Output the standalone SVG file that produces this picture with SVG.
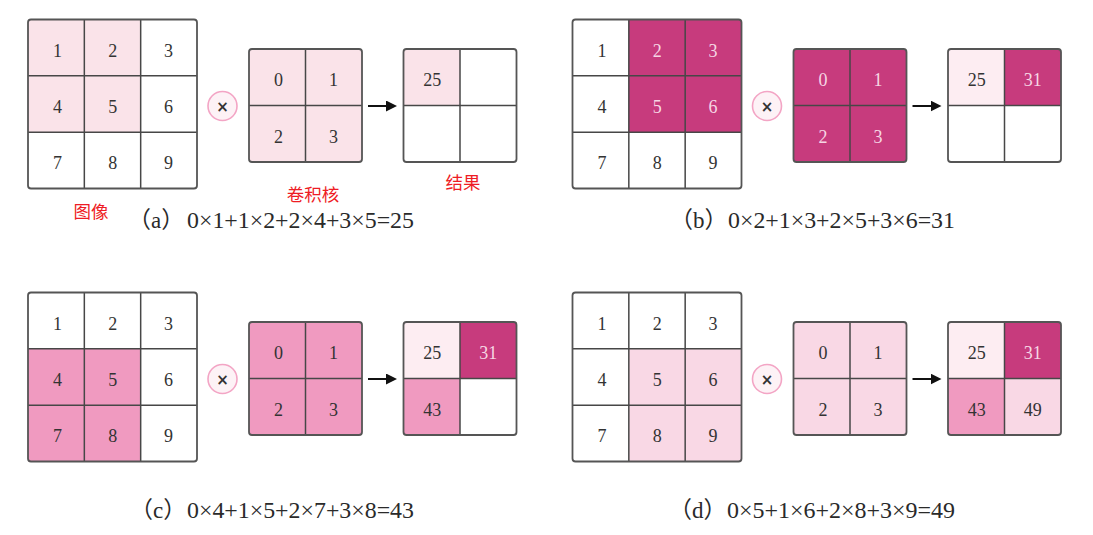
<svg xmlns="http://www.w3.org/2000/svg" width="1093" height="535" viewBox="0 0 1093 535">
<defs>
<style>
.bg{fill:#ffffff}
.ln{stroke:#474747;stroke-width:1.5;fill:none}
.outer{stroke:#555555;stroke-width:1.8;fill:none}
.num{font-family:"Liberation Serif","Times New Roman",serif;font-size:18px;fill:#333333;text-anchor:middle}
.w{fill:#f6d6e4}
.la{fill:#fae3e9}
.mg{fill:#c73b7d}
.md{fill:#f09ac0}
.ld{fill:#f9d8e5}
.vl{fill:#fdedf2}
.op{fill:#fdf2f6;stroke:#f3a5c5;stroke-width:1.6}
.opx{font-family:"DejaVu Sans",sans-serif;font-size:15px;fill:#333333;text-anchor:middle;font-weight:bold}
.arr{stroke:#111111;stroke-width:2;fill:none}
.cap{font-family:"Liberation Serif","Noto Sans CJK SC",serif;font-size:23px;fill:#2a2a2a}
.lbl{font-family:"Noto Sans CJK SC",sans-serif;font-size:17.5px;fill:#ee1c25;text-anchor:middle}
</style>
<marker id="ah" markerWidth="11" markerHeight="11" refX="1" refY="5.5" orient="auto" markerUnits="userSpaceOnUse">
<path d="M0,0 L11,5.5 L0,11 Z" fill="#111111"/>
</marker>
</defs>
<rect class="bg" x="0" y="0" width="1093" height="535"/>

<!-- Panel (a) -->
<g id="panel-a">
 <g id="a-image">
  <rect class="bg" x="28" y="19.5" width="169" height="169" rx="3"/>
  <rect class="la" x="28" y="19.5" width="112.67" height="112.67"/>
  <path class="ln" d="M84.33 19.5V188.5M140.67 19.5V188.5M28 75.83H197M28 132.17H197"/>
  <rect class="outer" x="28" y="19.5" width="169" height="169" rx="3"/>
  <text class="num" x="57.5" y="56.7">1</text><text class="num" x="112.8" y="56.7">2</text><text class="num" x="168.5" y="56.7">3</text>
  <text class="num" x="57.5" y="113">4</text><text class="num" x="112.8" y="113">5</text><text class="num" x="168.5" y="113">6</text>
  <text class="num" x="57.5" y="169.3">7</text><text class="num" x="112.8" y="169.3">8</text><text class="num" x="168.5" y="169.3">9</text>
 </g>
 <g id="a-op">
  <circle class="op" cx="222.5" cy="106" r="14.5"/>
  <text class="opx" x="222.5" y="111.5">×</text>
 </g>
 <g id="a-kernel">
  <rect class="la" x="249" y="49" width="113" height="113" rx="3"/>
  <path class="ln" d="M305.5 49V162M249 105.5H362"/>
  <rect class="outer" x="249" y="49" width="113" height="113" rx="3"/>
  <text class="num" x="278.5" y="86.3">0</text><text class="num" x="333.5" y="86.3">1</text>
  <text class="num" x="278.5" y="142.8">2</text><text class="num" x="333.5" y="142.8">3</text>
 </g>
 <g id="a-result">
  <rect class="bg" x="403.5" y="49" width="113" height="113" rx="3"/>
  <rect class="la" x="403.5" y="49" width="56.5" height="56.5"/>
  <path class="ln" d="M460 49V162M403.5 105.5H516.5"/>
  <rect class="outer" x="403.5" y="49" width="113" height="113" rx="3"/>
  <text class="num" x="432.3" y="86.3">25</text>
 </g>
</g>

<!-- Panel (b) -->
<g id="panel-b" transform="translate(544.5,0)">
 <g id="b-image">
  <rect class="bg" x="28" y="19.5" width="169" height="169" rx="3"/>
  <path class="mg" d="M84.33 19.5H194A3 3 0 0 1 197 22.5V132.17H84.33Z"/>
  <path class="ln" d="M84.33 19.5V188.5M140.67 19.5V188.5M28 75.83H197M28 132.17H197"/>
  <rect class="outer" x="28" y="19.5" width="169" height="169" rx="3"/>
  <text class="num" x="57.5" y="56.7">1</text><text class="num w" x="112.8" y="56.7">2</text><text class="num w" x="168.5" y="56.7">3</text>
  <text class="num" x="57.5" y="113">4</text><text class="num w" x="112.8" y="113">5</text><text class="num w" x="168.5" y="113">6</text>
  <text class="num" x="57.5" y="169.3">7</text><text class="num" x="112.8" y="169.3">8</text><text class="num" x="168.5" y="169.3">9</text>
 </g>
 <g id="b-op">
  <circle class="op" cx="222.5" cy="106" r="14.5"/>
  <text class="opx" x="222.5" y="111.5">×</text>
 </g>
 <g id="b-kernel">
  <rect class="mg" x="249" y="49" width="113" height="113" rx="3"/>
  <path class="ln" d="M305.5 49V162M249 105.5H362"/>
  <rect class="outer" x="249" y="49" width="113" height="113" rx="3"/>
  <text class="num w" x="278.5" y="86.3">0</text><text class="num w" x="333.5" y="86.3">1</text>
  <text class="num w" x="278.5" y="142.8">2</text><text class="num w" x="333.5" y="142.8">3</text>
 </g>
 <g id="b-result">
  <rect class="bg" x="403.5" y="49" width="113" height="113" rx="3"/>
  <rect class="vl" x="403.5" y="49" width="56.5" height="56.5"/>
  <rect class="mg" x="460" y="49" width="56.5" height="56.5"/>
  <path class="ln" d="M460 49V162M403.5 105.5H516.5"/>
  <rect class="outer" x="403.5" y="49" width="113" height="113" rx="3"/>
  <text class="num" x="432.3" y="86.3">25</text><text class="num w" x="488.3" y="86.3">31</text>
 </g>
</g>

<!-- Panel (c) -->
<g id="panel-c" transform="translate(0,273)">
 <g id="c-image">
  <rect class="bg" x="28" y="19.5" width="169" height="169" rx="3"/>
  <rect class="md" x="28" y="75.83" width="112.67" height="112.67"/>
  <path class="ln" d="M84.33 19.5V188.5M140.67 19.5V188.5M28 75.83H197M28 132.17H197"/>
  <rect class="outer" x="28" y="19.5" width="169" height="169" rx="3"/>
  <text class="num" x="57.5" y="56.7">1</text><text class="num" x="112.8" y="56.7">2</text><text class="num" x="168.5" y="56.7">3</text>
  <text class="num" x="57.5" y="113">4</text><text class="num" x="112.8" y="113">5</text><text class="num" x="168.5" y="113">6</text>
  <text class="num" x="57.5" y="169.3">7</text><text class="num" x="112.8" y="169.3">8</text><text class="num" x="168.5" y="169.3">9</text>
 </g>
 <g id="c-op">
  <circle class="op" cx="222.5" cy="106" r="14.5"/>
  <text class="opx" x="222.5" y="111.5">×</text>
 </g>
 <g id="c-kernel">
  <rect class="md" x="249" y="49" width="113" height="113" rx="3"/>
  <path class="ln" d="M305.5 49V162M249 105.5H362"/>
  <rect class="outer" x="249" y="49" width="113" height="113" rx="3"/>
  <text class="num" x="278.5" y="86.3">0</text><text class="num" x="333.5" y="86.3">1</text>
  <text class="num" x="278.5" y="142.8">2</text><text class="num" x="333.5" y="142.8">3</text>
 </g>
 <g id="c-result">
  <rect class="bg" x="403.5" y="49" width="113" height="113" rx="3"/>
  <rect class="vl" x="403.5" y="49" width="56.5" height="56.5"/>
  <rect class="mg" x="460" y="49" width="56.5" height="56.5"/>
  <rect class="md" x="403.5" y="105.5" width="56.5" height="56.5"/>
  <path class="ln" d="M460 49V162M403.5 105.5H516.5"/>
  <rect class="outer" x="403.5" y="49" width="113" height="113" rx="3"/>
  <text class="num" x="432.3" y="86.3">25</text><text class="num w" x="488.3" y="86.3">31</text>
  <text class="num" x="432.3" y="142.8">43</text>
 </g>
</g>

<!-- Panel (d) -->
<g id="panel-d" transform="translate(544.5,273)">
 <g id="d-image">
  <rect class="bg" x="28" y="19.5" width="169" height="169" rx="3"/>
  <rect class="ld" x="84.33" y="75.83" width="112.67" height="112.67"/>
  <path class="ln" d="M84.33 19.5V188.5M140.67 19.5V188.5M28 75.83H197M28 132.17H197"/>
  <rect class="outer" x="28" y="19.5" width="169" height="169" rx="3"/>
  <text class="num" x="57.5" y="56.7">1</text><text class="num" x="112.8" y="56.7">2</text><text class="num" x="168.5" y="56.7">3</text>
  <text class="num" x="57.5" y="113">4</text><text class="num" x="112.8" y="113">5</text><text class="num" x="168.5" y="113">6</text>
  <text class="num" x="57.5" y="169.3">7</text><text class="num" x="112.8" y="169.3">8</text><text class="num" x="168.5" y="169.3">9</text>
 </g>
 <g id="d-op">
  <circle class="op" cx="222.5" cy="106" r="14.5"/>
  <text class="opx" x="222.5" y="111.5">×</text>
 </g>
 <g id="d-kernel">
  <rect class="ld" x="249" y="49" width="113" height="113" rx="3"/>
  <path class="ln" d="M305.5 49V162M249 105.5H362"/>
  <rect class="outer" x="249" y="49" width="113" height="113" rx="3"/>
  <text class="num" x="278.5" y="86.3">0</text><text class="num" x="333.5" y="86.3">1</text>
  <text class="num" x="278.5" y="142.8">2</text><text class="num" x="333.5" y="142.8">3</text>
 </g>
 <g id="d-result">
  <rect class="ld" x="403.5" y="49" width="113" height="113" rx="3"/>
  <rect class="vl" x="403.5" y="49" width="56.5" height="56.5"/>
  <rect class="mg" x="460" y="49" width="56.5" height="56.5"/>
  <rect class="md" x="403.5" y="105.5" width="56.5" height="56.5"/>
  <path class="ln" d="M460 49V162M403.5 105.5H516.5"/>
  <rect class="outer" x="403.5" y="49" width="113" height="113" rx="3"/>
  <text class="num" x="432.3" y="86.3">25</text><text class="num w" x="488.3" y="86.3">31</text>
  <text class="num" x="432.3" y="142.8">43</text><text class="num" x="488.3" y="142.8">49</text>
 </g>
</g>

<!-- Connectors -->
<g id="connectors">
 <path class="arr" d="M368 106H387" marker-end="url(#ah)"/>
 <path class="arr" d="M912.5 106H931.5" marker-end="url(#ah)"/>
 <path class="arr" d="M368 379H387" marker-end="url(#ah)"/>
 <path class="arr" d="M912.5 379H931.5" marker-end="url(#ah)"/>
</g>

<!-- Labels -->
<g id="labels">
 <text class="lbl" x="91" y="218">图像</text>
 <text class="lbl" x="313" y="201">卷积核</text>
 <text class="lbl" x="463" y="189">结果</text>
</g>

<!-- Captions -->
<g id="captions">
 <text class="cap" x="128" y="228">（a）</text>
 <text class="cap" x="187" y="228" textLength="227" lengthAdjust="spacingAndGlyphs">0×1+1×2+2×4+3×5=25</text>
 <text class="cap" x="670" y="228">（b）</text>
 <text class="cap" x="728" y="228" textLength="227" lengthAdjust="spacingAndGlyphs">0×2+1×3+2×5+3×6=31</text>
 <text class="cap" x="130" y="518">（c）</text>
 <text class="cap" x="187" y="518" textLength="227" lengthAdjust="spacingAndGlyphs">0×4+1×5+2×7+3×8=43</text>
 <text class="cap" x="669" y="518">（d）</text>
 <text class="cap" x="727" y="518" textLength="228" lengthAdjust="spacingAndGlyphs">0×5+1×6+2×8+3×9=49</text>
</g>
</svg>
